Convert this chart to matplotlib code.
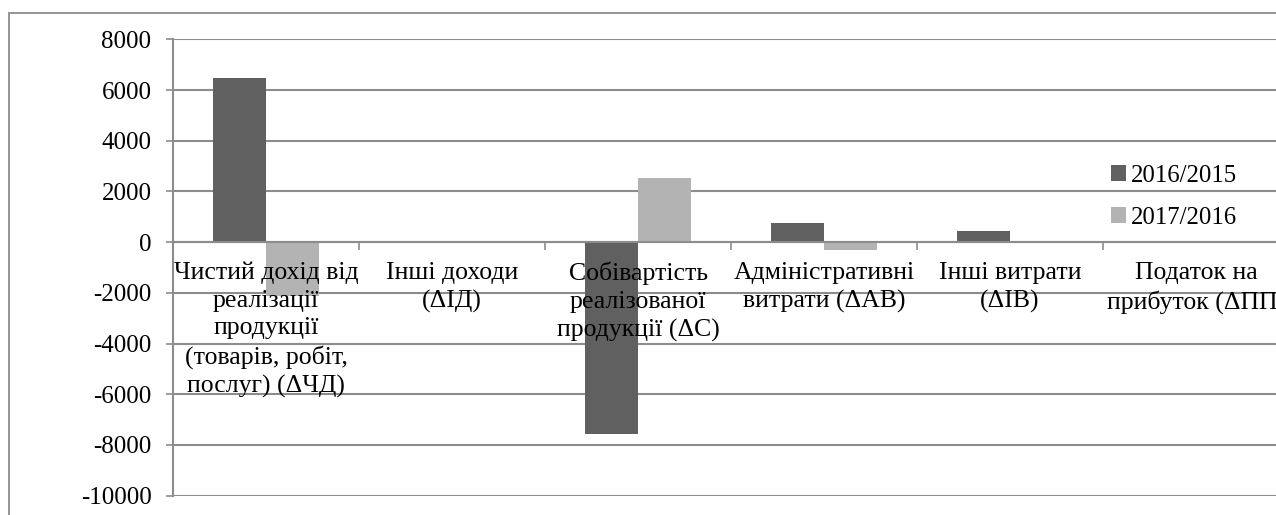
import matplotlib.pyplot as plt
from matplotlib.patches import Rectangle
import numpy as np

plt.rcParams['font.family'] = ['Liberation Serif', 'DejaVu Serif']

# Categories of the factor analysis (changes in profit components)
categories = [
    "Чистий дохід від\nреалізації\nпродукції\n(товарів, робіт,\nпослуг) (ΔЧД)",
    "Інші доходи\n(ΔІД)",
    "Собівартість\nреалізованої\nпродукції (ΔС)",
    "Адміністративні\nвитрати (ΔАВ)",
    "Інші витрати\n(ΔІВ)",
    "Податок на\nприбуток (ΔПП)",
]
series_names = ["2016/2015", "2017/2016"]
change_2016 = [6490, -50, -7580, 770, 420, 0]
change_2017 = [-2140, 0, 2535, -300, -30, 0]

yticks = list(range(-10000, 8001, 2000))

dark = '#606060'
light = '#b3b3b3'
grid_c = '#8c8c8c'

W, H = 1276, 515
fig = plt.figure(figsize=(W / 100, H / 100), dpi=100)

# outer chart border (runs past the right/bottom edge)
fig.add_artist(Rectangle((9 / W, -0.2), 2.0, (H - 13) / H + 0.2,
                         transform=fig.transFigure, fill=False,
                         edgecolor=grid_c, lw=1.3, clip_on=False))

ax = fig.add_axes([173 / W, 19.3 / H, 1116 / W, 456.4 / H])

x = np.arange(len(categories))
bw = 0.285
ax.bar(x - bw / 2, change_2016, bw, color=dark, label=series_names[0], zorder=2)
ax.bar(x + bw / 2, change_2017, bw, color=light, label=series_names[1], zorder=2)

ax.set_xlim(-0.5, len(categories) - 0.5)
ax.set_ylim(-10000, 8000)
ax.set_yticks(yticks)
ax.set_yticklabels([str(v) for v in yticks], fontsize=18)
ax.yaxis.grid(True, color=grid_c, lw=1.5)
ax.set_axisbelow(True)

for s in ['top', 'right']:
    ax.spines[s].set_visible(False)
ax.spines['left'].set_color(grid_c)
ax.spines['left'].set_linewidth(1.5)
ax.spines['bottom'].set_position(('data', 0))
ax.spines['bottom'].set_color(grid_c)
ax.spines['bottom'].set_linewidth(1.5)
ax.spines['bottom'].set_zorder(4)

ax.tick_params(axis='y', length=5, width=1.2, color=grid_c, pad=10.5)

# tick marks at category borders
ax.set_xticks(np.arange(-0.5, len(categories) + 0.5, 1.0))
ax.set_xticklabels([])
ax.tick_params(axis='x', which='major', length=5.5, width=1.2, color=grid_c)

# category labels sit under the zero line, on top of the bars
for xi, name in zip(x, categories):
    ax.annotate(name, (xi, 0), xytext=(0, -14), textcoords='offset points',
                ha='center', va='top', fontsize=18.5, linespacing=1.33,
                zorder=6, annotation_clip=False)

fig.legend(loc='upper left', bbox_to_anchor=(1101 / W, 1 - 155 / H),
           frameon=False, fontsize=17.8, handlelength=0.6, handleheight=0.6,
           handletextpad=0.2, labelspacing=0.8, borderaxespad=0)

fig.savefig('out.png', dpi=100)
